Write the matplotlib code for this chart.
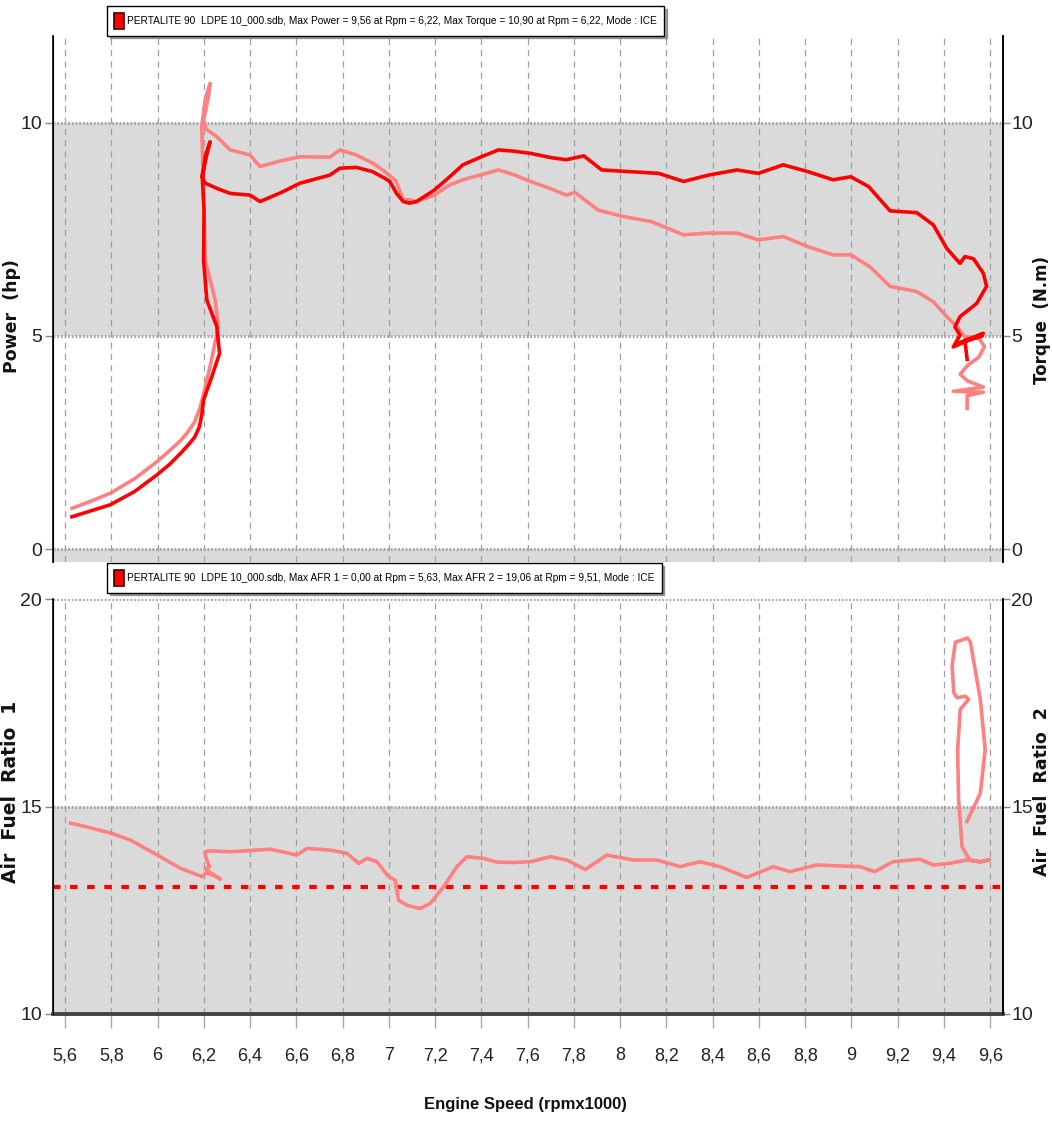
import matplotlib
matplotlib.use("Agg")
import matplotlib.pyplot as plt
from matplotlib.patches import Patch
from matplotlib import font_manager as fm

# ---------------- data ----------------
power_rpm = [5.63, 5.70, 5.795, 5.90, 5.997, 6.05, 6.10, 6.127, 6.16, 6.181, 6.192, 6.199,
             6.235, 6.268, 6.256, 6.213, 6.199, 6.201, 6.194, 6.206, 6.227, 6.216, 6.191, 6.206,
             6.26, 6.314, 6.40, 6.443, 6.53, 6.616, 6.745, 6.788, 6.86, 6.93, 6.98, 7.004,
             7.033, 7.062, 7.089, 7.12, 7.197, 7.263, 7.32, 7.40, 7.474, 7.54, 7.612, 7.70,
             7.766, 7.843, 7.92, 8.043, 8.166, 8.274, 8.382, 8.505, 8.597, 8.705, 8.812, 8.92,
             8.997, 9.074, 9.167, 9.282, 9.354, 9.412, 9.469, 9.49, 9.527, 9.57, 9.584, 9.541,
             9.469, 9.447, 9.469, 9.44, 9.57, 9.45, 9.565, 9.49, 9.50]
power_hp = [0.76, 0.88, 1.04, 1.35, 1.74, 1.98, 2.25, 2.41, 2.62, 2.87, 3.18, 3.50,
            4.05, 4.59, 5.22, 5.84, 6.78, 7.95, 8.66, 9.20, 9.55, 9.32, 8.73, 8.58,
            8.45, 8.34, 8.30, 8.15, 8.35, 8.58, 8.77, 8.93, 8.95, 8.85, 8.70, 8.62,
            8.34, 8.15, 8.11, 8.15, 8.42, 8.73, 9.01, 9.20, 9.36, 9.33, 9.28, 9.18,
            9.13, 9.22, 8.89, 8.85, 8.81, 8.62, 8.77, 8.89, 8.81, 9.01, 8.85, 8.66,
            8.73, 8.50, 7.93, 7.89, 7.60, 7.05, 6.70, 6.86, 6.81, 6.47, 6.16, 5.76,
            5.45, 5.21, 5.02, 4.74, 5.06, 4.80, 5.00, 4.90, 4.45]

torque_rpm = [5.63, 5.70, 5.795, 5.90, 5.997, 6.05, 6.10, 6.127, 6.16, 6.185, 6.20, 6.227,
              6.263, 6.249, 6.206, 6.199, 6.191, 6.206, 6.227, 6.22, 6.199, 6.21, 6.256, 6.314,
              6.40, 6.443, 6.53, 6.616, 6.745, 6.788, 6.86, 6.93, 6.976, 7.03, 7.062, 7.089,
              7.12, 7.197, 7.263, 7.32, 7.40, 7.474, 7.54, 7.612, 7.70, 7.766, 7.805, 7.905,
              8.012, 8.135, 8.274, 8.382, 8.505, 8.597, 8.705, 8.812, 8.92, 8.997, 9.08, 9.167,
              9.282, 9.354, 9.412, 9.455, 9.49, 9.55, 9.575, 9.55, 9.50, 9.47, 9.50, 9.57,
              9.44, 9.57, 9.50, 9.50]
torque_nm = [0.96, 1.10, 1.31, 1.65, 2.05, 2.30, 2.55, 2.72, 2.98, 3.34, 3.66, 4.28,
             5.22, 5.84, 6.78, 8.34, 9.91, 10.53, 10.92, 10.61, 10.06, 9.85, 9.67, 9.36,
             9.24, 8.97, 9.10, 9.20, 9.19, 9.36, 9.24, 9.05, 8.88, 8.64, 8.19, 8.19,
             8.15, 8.30, 8.54, 8.66, 8.78, 8.89, 8.78, 8.62, 8.45, 8.30, 8.36, 7.95,
             7.80, 7.68, 7.37, 7.41, 7.41, 7.25, 7.33, 7.09, 6.90, 6.90, 6.62, 6.16,
             6.04, 5.80, 5.45, 5.22, 4.98, 4.95, 4.75, 4.50, 4.30, 4.10, 3.95, 3.80,
             3.70, 3.68, 3.60, 3.30]

afr_rpm = [5.624, 5.70, 5.797, 5.883, 5.999, 6.099, 6.193, 6.21, 6.24, 6.272, 6.24, 6.205,
           6.225, 6.21, 6.205, 6.22, 6.315, 6.43, 6.488, 6.603, 6.646, 6.747, 6.819, 6.869,
           6.905, 6.948, 6.999, 7.027, 7.042, 7.078, 7.135, 7.178, 7.236, 7.294, 7.337, 7.409,
           7.466, 7.54, 7.612, 7.698, 7.77, 7.849, 7.942, 8.058, 8.158, 8.259, 8.345, 8.432,
           8.547, 8.662, 8.734, 8.849, 9.036, 9.10, 9.18, 9.295, 9.353, 9.424, 9.496, 9.554,
           9.597, 9.56, 9.51, 9.478, 9.463, 9.459, 9.47, 9.506, 9.492, 9.456, 9.442, 9.435,
           9.449, 9.502, 9.514, 9.557, 9.578, 9.557, 9.499]
afr_val = [14.60, 14.50, 14.36, 14.19, 13.83, 13.51, 13.31, 13.40, 13.35, 13.25, 13.36, 13.50,
           13.55, 13.75, 13.90, 13.93, 13.91, 13.95, 13.97, 13.83, 13.99, 13.95, 13.87, 13.63,
           13.75, 13.67, 13.31, 13.23, 12.74, 12.62, 12.54, 12.66, 13.06, 13.55, 13.79, 13.75,
           13.66, 13.65, 13.67, 13.79, 13.71, 13.48, 13.83, 13.71, 13.71, 13.55, 13.67, 13.55,
           13.29, 13.55, 13.43, 13.59, 13.55, 13.43, 13.67, 13.73, 13.59, 13.63, 13.71, 13.67,
           13.72, 13.66, 13.72, 14.03, 15.16, 16.37, 17.34, 17.58, 17.66, 17.62, 17.75, 18.39,
           18.96, 19.06, 18.96, 17.58, 16.37, 15.32, 14.64]

afr_target = 13.07

x_ticks = [5.6, 5.8, 6.0, 6.2, 6.4, 6.6, 6.8, 7.0, 7.2, 7.4, 7.6, 7.8, 8.0,
           8.2, 8.4, 8.6, 8.8, 9.0, 9.2, 9.4, 9.6]
x_tick_labels = ["5,6", "5,8", "6", "6,2", "6,4", "6,6", "6,8", "7", "7,2", "7,4", "7,6",
                 "7,8", "8", "8,2", "8,4", "8,6", "8,8", "9", "9,2", "9,4", "9,6"]
top_yticks = [0, 5, 10]
bot_yticks = [10, 15, 20]

legend_top = ("PERTALITE 90  LDPE 10_000.sdb, Max Power = 9,56 at Rpm = 6,22, "
              "Max Torque = 10,90 at Rpm = 6,22, Mode : ICE")
legend_bot = ("PERTALITE 90  LDPE 10_000.sdb, Max AFR 1 = 0,00 at Rpm = 5,63, "
              "Max AFR 2 = 19,06 at Rpm = 9,51, Mode : ICE")

# ---------------- style ----------------
_names = {f.name for f in fm.fontManager.ttflist}
if "Liberation Sans Narrow" in _names:
    NARROW = ["Liberation Sans Narrow", "Liberation Sans", "DejaVu Sans"]
    SCALE = 1.2
else:
    NARROW = ["Liberation Sans", "DejaVu Sans"]
    SCALE = 1.0
plt.rcParams["font.family"] = NARROW
RED = "#ff0000"
PINK = "#ff8080"
BAND = "#dadada"
W, H = 1052, 1126
fig = plt.figure(figsize=(W / 100, H / 100), dpi=100)

XLIM = (5.548, 9.655)

def px_axes(left, top, right, bottom):
    return [left / W, 1 - bottom / H, (right - left) / W, (bottom - top) / H]

ax1 = fig.add_axes(px_axes(53, 36, 1003, 562))
ax2 = fig.add_axes(px_axes(53, 599, 1003, 1014))

TICK_FS = 14 * SCALE

def style_axes(ax, ylim, yticks, band):
    ax.set_xlim(*XLIM)
    ax.set_ylim(*ylim)
    for y0, y1 in band:
        ax.axhspan(y0, y1, color=BAND, zorder=0, lw=0)
    for xt in x_ticks:
        ax.axvline(xt, color="#a0a0a0", lw=0.9, ls=(0, (5, 4)), zorder=1)
    for yt in yticks:
        ax.axhline(yt, color="#a8a8a8", lw=2.2, ls=(0, (0.6, 0.6)), zorder=1)
    ax.set_yticks(yticks)
    ax.set_yticklabels([str(t) for t in yticks], fontsize=TICK_FS, color="#222222")
    ax.tick_params(axis="y", length=6, color="#888888", width=1, pad=2)
    ax.spines["top"].set_visible(False)
    ax.spines["left"].set_linewidth(1.2)
    ax.spines["right"].set_linewidth(1.2)
    ax.set_xticks(x_ticks)
    axr = ax.twinx()
    axr.set_ylim(*ylim)
    axr.set_yticks(yticks)
    axr.set_yticklabels([str(t) for t in yticks], fontsize=TICK_FS, color="#222222")
    axr.tick_params(axis="y", length=5, color="#888888", width=1, pad=1)
    axr.spines["top"].set_visible(False)
    axr.spines["bottom"].set_visible(False)
    axr.spines["right"].set_linewidth(1.2)
    return axr

ax1r = style_axes(ax1, (-0.30, 12.03), top_yticks, [(5, 10), (-0.30, 0)])
ax2r = style_axes(ax2, (10, 20), bot_yticks, [(10, 15)])

ax1.spines["bottom"].set_visible(False)
ax1.tick_params(axis="x", length=0, labelbottom=False)

ax2.spines["bottom"].set_color("#444444")
ax2.spines["bottom"].set_linewidth(2.8)
ax2.set_xticklabels(x_tick_labels, fontsize=13 * SCALE, color="#222222")
ax2.tick_params(axis="x", length=10, color="#aaaaaa", width=1, pad=14)

# curves
ax1.plot(torque_rpm, torque_nm, color=PINK, lw=2.6, zorder=3, solid_joinstyle="round")
ax1.plot(power_rpm, power_hp, color=RED, lw=2.6, zorder=4, solid_joinstyle="round")
ax2.axhline(afr_target, color=RED, lw=3.0, ls=(0, (1.8, 2.3)), zorder=3)
ax2.plot(afr_rpm, afr_val, color=PINK, lw=2.6, zorder=4, solid_joinstyle="round")

# axis labels
lab_kw = dict(family=["DejaVu Sans"], fontweight="bold", color="#111111")
def place_label(axis, text, fs, x_px, y_frac):
    axis.set_ylabel(text, fontsize=fs, **lab_kw)
    axis.yaxis.label.set_va("center")
    axis.yaxis.label.set_ha("center")
    axis.yaxis.set_label_coords((x_px - 53) / 950, y_frac)

place_label(ax1, "Power  (hp)", 12.5, 12, (562 - 316) / 526)
place_label(ax1r, "Torque  (N.m)", 12, 1042, (562 - 320) / 526)
place_label(ax2, "Air  Fuel  Ratio  1", 13.5, 11, (1014 - 792) / 415)
place_label(ax2r, "Air  Fuel  Ratio  2", 12.5, 1042, (1014 - 792) / 415)

fig.text(525 / W, 1 - 1105 / H, "Engine Speed (rpmx1000)", ha="center", va="center",
         fontsize=12 * SCALE, fontweight="bold", color="#111111")

# legends
def add_legend(text, x_px, y_px):
    h = Patch(facecolor=RED, edgecolor="#3a0000", lw=1.2)
    leg = fig.legend([h], [text], loc="upper left",
                     bbox_to_anchor=(x_px / W, 1 - y_px / H),
                     bbox_transform=fig.transFigure,
                     fontsize=7.25 * SCALE, frameon=True, fancybox=False, shadow=True,
                     handlelength=0.95, handleheight=2.0, handletextpad=0.35,
                     borderpad=0.7, borderaxespad=0)
    leg.get_frame().set_edgecolor("black")
    leg.get_frame().set_linewidth(1.0)
    leg.get_frame().set_facecolor("white")
    leg.set_zorder(10)
    return leg

add_legend(legend_top, 107, 6)
add_legend(legend_bot, 107, 563)

fig.savefig("out.png", dpi=100)
